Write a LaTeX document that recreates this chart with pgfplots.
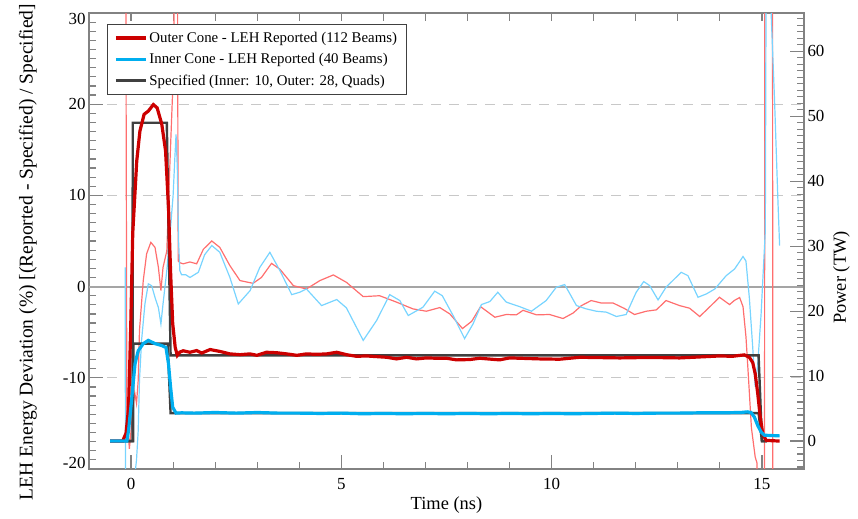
\documentclass[border=0pt]{standalone}
\usepackage{fontspec}
\setmainfont{Liberation Serif}
\usepackage{pgfplots}
\pgfplotsset{compat=1.18}

\definecolor{OuterThick}{RGB}{204,0,0}
\definecolor{InnerThick}{RGB}{0,174,239}
\definecolor{OuterThin}{RGB}{255,110,110}
\definecolor{InnerThin}{RGB}{120,212,255}
\definecolor{SpecGray}{RGB}{64,64,64}
\definecolor{AxisGray}{RGB}{130,130,130}
\definecolor{GridGray}{RGB}{200,200,200}
\definecolor{ZeroGray}{RGB}{165,165,165}

\begin{document}
\begin{tikzpicture}
\pgfplotsset{
  base/.style={
    scale only axis,
    width=715bp, height=456bp,
    at={(0,0)}, anchor=south west,
    xmin=-1, xmax=16,
    /pgf/number format/assume math mode=true,
    tick label style={font=\fontsize{17}{20}\selectfont},
    label style={font=\fontsize{18.5}{22}\selectfont},
    axis line style={AxisGray, line width=1.3bp},
    tick style={AxisGray, line width=1.2bp},
    major tick length=14bp,
    minor tick length=7bp,
    tick align=inside,
  }
}

% deviation (%) on the left axis
\begin{axis}[
  base,
  ymin=-20, ymax=30,
  ytick={-20,-10,...,30},
  yticklabels={\smash{-20},-10,0,10,20,\smash{\raisebox{-11.5bp}{30}}},
  minor ytick={-20,-19,...,30},
  xtick={0,5,10,15},
  minor xtick={-1,0,...,16},
  ytick pos=left,
  xtick pos=bottom,
  extra x ticks={0,1,...,15},
  extra x tick labels={},
  extra x tick style={xtick pos=top, major tick length=8bp},
  ymajorgrids,
  major grid style={GridGray, dash pattern=on 10bp off 8bp, line width=1.2bp},
  xticklabel style={yshift=-6bp},
  xlabel={Time (ns)},
  xlabel style={at={([yshift=-28bp]rel axis cs:0.5,0)}, anchor=north, inner sep=0pt},
  ylabel={LEH Energy Deviation (\%) [(Reported - Specified) / Specified]},
  ylabel style={at={([xshift=-52bp]rel axis cs:0,0.476)}, anchor=south, inner sep=0pt,
    font=\fontsize{19.6}{23}\selectfont},
]
\draw[ZeroGray, line width=2bp] (axis cs:-1,0) -- (axis cs:16,0);

\addplot[OuterThin, line width=1.2bp] coordinates {
(-0.13,45)(-0.10,-14)(-0.04,-17.8)(0.0,-15.8)(0.055,-12.8)(0.09,-11.7)
(0.13,-12.8)(0.17,-10.3)(0.20,-4.8)(0.29,0.66)(0.37,3.6)(0.47,4.85)
(0.57,4.3)(0.65,2.1)(0.71,-0.44)(0.76,2.1)(0.85,3.9)(0.92,13)(1.01,24)
(1.05,45)(1.10,45)(1.12,2.8)(1.17,2.6)(1.24,2.5)(1.40,2.7)(1.56,2.5)
(1.72,4.1)(1.92,5.0)(2.11,4.3)(2.35,2.3)(2.59,0.66)(2.90,0.36)(3.10,1.0)
(3.34,2.55)(3.54,1.9)(3.86,0.1)(4.17,-0.26)(4.49,0.66)(4.81,1.28)
(5.12,0.47)(5.52,-1.1)(5.91,-1.0)(6.31,-1.7)(6.70,-2.44)(7.02,-2.7)
(7.34,-2.3)(7.58,-3.0)(7.88,-4.6)(8.10,-3.8)(8.31,-2.2)(8.65,-3.36)
(8.92,-3.06)(9.16,-3.1)(9.32,-2.6)(9.64,-3.1)(9.95,-3.06)(10.27,-3.5)
(10.51,-2.9)(10.71,-2.08)(10.94,-1.53)(11.18,-1.8)(11.46,-1.8)(11.73,-2.4)
(11.97,-3.06)(12.25,-2.7)(12.49,-2.55)(12.72,-1.53)(13.04,-2.08)
(13.28,-2.37)(13.52,-3.28)(13.75,-2.26)(13.99,-1.17)(14.23,-1.97)
(14.35,-1.5)(14.47,-1.2)(14.55,-2.2)(14.62,-5.5)(14.68,-10)(14.75,-15.5)
(14.84,-18.7)(14.88,-19.3)(14.93,-30)(15.06,-30)(15.07,45)(15.25,45)
(15.26,-30)};

\addplot[InnerThin, line width=1.2bp] coordinates {
(-0.14,2.1)(-0.13,-30)(0.09,-30)(0.095,-20.5)(0.13,-19)(0.17,-15.8)
(0.20,-10.3)(0.25,-5.9)(0.33,-1.9)(0.41,0.3)(0.49,0.1)(0.57,-1.2)
(0.65,-2.3)(0.71,-4.1)(0.76,-1.9)(0.85,1.75)(0.92,5.4)(1.00,10)
(1.04,14)(1.07,16.7)(1.10,13)(1.13,5)(1.16,1.75)(1.20,1.3)(1.30,1.3)
(1.40,1.0)(1.60,1.57)(1.75,3.5)(1.92,4.5)(2.11,3.76)(2.35,1.0)
(2.55,-1.9)(2.83,-0.44)(3.06,2.1)(3.30,3.76)(3.54,1.75)(3.82,-0.88)
(4.01,-0.62)(4.17,-0.26)(4.53,-2.08)(4.89,-1.42)(5.12,-2.33)(5.52,-5.9)
(5.84,-3.7)(6.15,-0.88)(6.39,-1.53)(6.59,-3.17)(6.94,-2.26)(7.22,-0.5)
(7.40,-1.0)(7.66,-3.2)(7.93,-5.7)(8.13,-4.1)(8.33,-1.97)(8.53,-1.64)
(8.72,-0.62)(8.92,-1.7)(9.24,-2.2)(9.52,-2.7)(9.87,-1.53)(10.11,-0.07)
(10.31,0.22)(10.59,-2.08)(10.82,-2.44)(11.06,-2.7)(11.30,-2.8)
(11.54,-3.28)(11.77,-3.06)(12.01,-0.62)(12.19,0.55)(12.33,0.11)
(12.53,-1.46)(12.72,-0.07)(12.88,0.66)(13.08,1.57)(13.24,1.2)
(13.48,-1.17)(13.68,-0.8)(13.88,-0.26)(14.15,1.2)(14.35,1.93)
(14.55,3.3)(14.62,2.8)(14.70,-1.2)(14.78,-6.6)(14.84,-11)(14.90,-8.5)
(14.98,-3.0)(15.04,2.5)(15.08,6.1)(15.10,35)(15.20,35)(15.22,29.8)
(15.30,20.4)(15.38,9.4)(15.42,4.5)};
\end{axis}

% power (TW) on the right axis
\begin{axis}[
  base,
  ymin=-4.3, ymax=65.9,
  axis y line*=right,
  axis x line=none,
  ytick={0,10,...,60},
  minor ytick={-4,-3,...,65},
  ylabel={Power (TW)},
  ylabel style={at={([xshift=29bp]rel axis cs:1,0.42)}, anchor=north, inner sep=0pt},
  legend style={
    at={(0.0252,0.976)}, anchor=north west,
    draw=SpecGray, fill=white,
    font=\fontsize{14.9}{17}\selectfont,
    inner xsep=7bp, inner ysep=6bp, row sep=5.5bp,
    cells={anchor=west},
  },
  legend image code/.code={\draw[#1] (0bp,0bp) -- (30bp,0bp);},
]
\addlegendimage{OuterThick, line width=3.2bp}
\addlegendentry{Outer Cone - LEH Reported (112 Beams)}
\addlegendimage{InnerThick, line width=3.2bp}
\addlegendentry{Inner Cone - LEH Reported (40 Beams)}
\addlegendimage{SpecGray, line width=3bp}
\addlegendentry{Specified (Inner: 10, Outer: 28, Quads)}

\addplot[SpecGray, line width=2.4bp, forget plot] coordinates {
(-0.5,0)(0.035,0)(0.04,49)(0.85,49)(0.94,13.2)(14.92,13.2)(15.0,0)(15.12,0)};
\addplot[SpecGray, line width=2.4bp, forget plot] coordinates {
(-0.5,0)(0.05,0)(0.055,15)(0.87,15)(0.94,4.3)(14.92,4.3)(15.0,0)(15.12,0)};

\addplot[OuterThick, line width=3.2bp, forget plot] coordinates {
(-0.5,0)(-0.2,0)(-0.12,1.2)(-0.06,5)(-0.01,17)(0.04,32)(0.135,43.1)
(0.21,47.7)(0.31,50.3)(0.41,50.8)(0.53,51.8)(0.62,51.3)(0.73,48.8)
(0.82,44.7)(0.89,36)(0.94,26)(0.99,18.1)(1.05,14.4)(1.10,13.2)
(1.16,13.7)(1.24,13.9)(1.40,13.67)(1.56,13.93)(1.68,13.55)(1.88,14.09)
(2.11,13.8)(2.35,13.42)(2.59,13.3)(2.83,13.42)(2.99,13.2)(3.22,13.67)
(3.46,13.6)(3.70,13.42)(3.94,13.2)(4.17,13.42)(4.41,13.35)(4.65,13.42)
(4.89,13.67)(5.12,13.3)(5.36,13.05)(5.60,13.1)(5.84,13.0)(6.08,12.9)
(6.31,12.65)(6.55,12.9)(6.79,12.65)(7.02,12.8)(7.26,12.75)(7.50,12.75)
(7.74,12.5)(8.05,12.55)(8.29,12.75)(8.76,12.5)(9.00,12.8)(9.24,12.75)
(9.71,12.65)(10.19,12.6)(10.67,12.9)(11.14,12.85)(11.62,12.8)
(12.09,12.85)(12.57,12.85)(13.04,12.8)(13.52,12.95)(13.99,13.1)
(14.30,13.05)(14.58,13.27)(14.70,12.9)(14.78,12.1)(14.84,10.35)
(14.90,7.3)(14.96,3.7)(15.02,1.1)(15.10,0.1)(15.42,0)};

\addplot[InnerThick, line width=3.2bp, forget plot] coordinates {
(-0.5,0)(-0.1,0)(-0.06,1.6)(0.02,6.8)(0.095,11.9)(0.17,13.9)(0.29,15.0)
(0.41,15.5)(0.57,15.0)(0.73,14.7)(0.83,14.4)(0.89,11.9)(0.94,8.3)
(0.99,5.2)(1.07,4.3)(1.20,4.35)(1.50,4.3)(2.00,4.4)(2.50,4.3)(3.00,4.4)
(3.50,4.3)(4.00,4.3)(4.50,4.25)(5.00,4.3)(5.50,4.2)(6.00,4.25)(6.50,4.2)
(7.00,4.25)(7.50,4.2)(8.00,4.25)(8.50,4.2)(9.00,4.25)(9.50,4.2)
(10.00,4.25)(10.50,4.2)(11.00,4.25)(11.50,4.3)(12.00,4.25)(12.50,4.3)
(13.00,4.3)(13.50,4.35)(14.00,4.35)(14.50,4.4)(14.65,4.5)(14.74,4.4)
(14.82,3.7)(14.90,2.4)(14.98,1.4)(15.06,0.9)(15.42,0.8)};
\end{axis}

\pgfresetboundingbox
\path (-89bp,-50bp) rectangle (769bp,469bp);
\end{tikzpicture}
\end{document}
